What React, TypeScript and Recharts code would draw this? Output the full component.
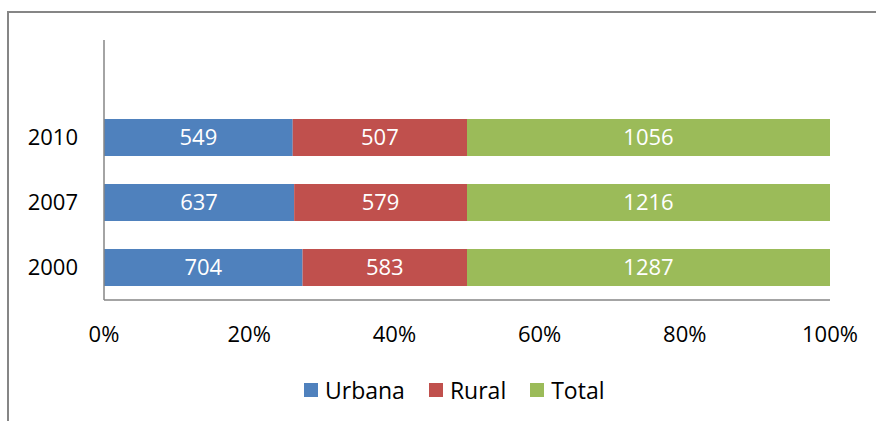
import React from 'react';
import { BarChart, Bar, XAxis, YAxis, Legend, LabelList } from 'recharts';

const years = ['2010', '2007', '2000'];
const urbana = [549, 637, 704];
const rural = [507, 579, 583];
const total = [1056, 1216, 1287];
const percentTicks = [0, 0.2, 0.4, 0.6, 0.8, 1];

const FONT = '"Open Sans", sans-serif';
const AXIS_GRAY = '#868686';

const series = [
  { key: 'urbana', name: 'Urbana', color: '#4F81BD' },
  { key: 'rural', name: 'Rural', color: '#C0504D' },
  { key: 'total', name: 'Total', color: '#9BBB59' },
];

// Excel leaves an empty slot above the first category
const data = [
  { year: '', urbana: null, rural: null, total: null },
  ...years.map((year, i) => ({
    year,
    urbana: urbana[i],
    rural: rural[i],
    total: total[i],
  })),
];

// legend keeps series order (recharts sorts payload by name)
function LegendContent() {
  return (
    <div style={{ display: 'flex', alignItems: 'center', height: 24, paddingLeft: 304 }}>
      {series.map((s) => (
        <div key={s.key} style={{ display: 'flex', alignItems: 'center', marginRight: 24 }}>
          <div style={{ width: 14, height: 14, background: s.color, marginRight: 7 }} />
          <span style={{ fontSize: 23, color: '#000', fontFamily: FONT, lineHeight: '24px' }}>
            {s.name}
          </span>
        </div>
      ))}
    </div>
  );
}

export default function App() {
  return (
    <div style={{ position: 'fixed', left: 0, top: 0, width: 876, height: 421, overflow: 'hidden', background: '#fff', fontFamily: FONT }}>
      <div
        style={{
          position: 'absolute',
          left: 7,
          top: 11,
          width: 900,
          height: 440,
          border: `2px solid ${AXIS_GRAY}`,
          boxSizing: 'border-box',
        }}
      />
      <div style={{ position: 'absolute', left: 0, top: 0 }}>
        <BarChart
          width={876}
          height={421}
          data={data}
          layout="vertical"
          stackOffset="expand"
          margin={{ top: 40, right: 46, left: 0, bottom: 37 }}
        >
          <XAxis
            type="number"
            domain={[0, 1]}
            ticks={percentTicks}
            tickFormatter={(v: number) => `${Math.round(v * 100)}%`}
            tick={{ fill: '#000', fontSize: 22, fontFamily: FONT }}
            tickLine={false}
            tickSize={0}
            tickMargin={26}
            axisLine={{ stroke: AXIS_GRAY, strokeWidth: 1.5 }}
            height={60}
            interval={0}
          />
          <YAxis
            type="category"
            dataKey="year"
            width={104}
            tick={{ fill: '#000', fontSize: 22, fontFamily: FONT }}
            tickLine={false}
            tickSize={0}
            tickMargin={26}
            axisLine={{ stroke: AXIS_GRAY, strokeWidth: 1.5 }}
            interval={0}
          />
          <Legend
            verticalAlign="bottom"
            align="left"
            content={<LegendContent />}
            wrapperStyle={{ left: 0, bottom: 19, width: 876 }}
          />
          {series.map((s) => (
            <Bar
              key={s.key}
              dataKey={s.key}
              name={s.name}
              stackId="a"
              fill={s.color}
              barSize={37}
              isAnimationActive={false}
            >
              <LabelList
                dataKey={s.key}
                position="center"
                fill="#fff"
                style={{ fontSize: 22, fontFamily: FONT }}
              />
            </Bar>
          ))}
        </BarChart>
      </div>
    </div>
  );
}
